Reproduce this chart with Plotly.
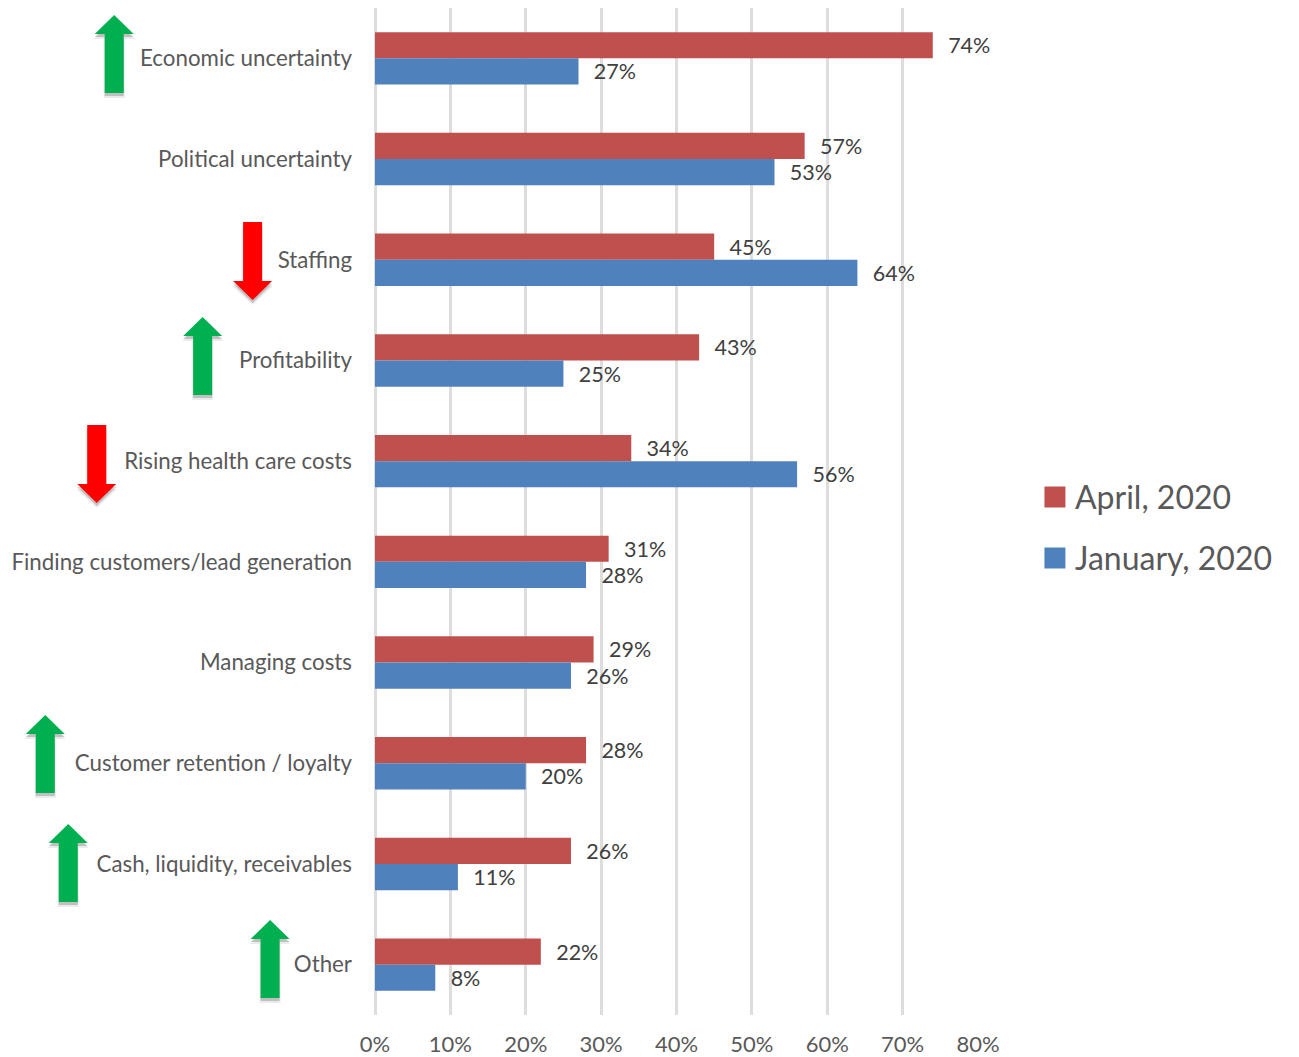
import plotly.graph_objects as go

categories = ["Economic uncertainty", "Political uncertainty", "Staffing", "Profitability",
              "Rising health care costs", "Finding customers/lead generation", "Managing costs",
              "Customer retention / loyalty", "Cash, liquidity, receivables", "Other"]
april = [74, 57, 45, 43, 34, 31, 29, 28, 26, 22]
january = [27, 53, 64, 25, 56, 28, 26, 20, 11, 8]
series_names = ["April, 2020", "January, 2020"]
series_colors = ["#C0504D", "#4F81BD"]
# arrow: direction, centre x px, top y px (in page pixels)
arrows = [("up", 114, 15), ("down", 252.5, 222), ("up", 202.5, 317), ("down", 96.5, 425),
          ("up", 45, 715), ("up", 68, 824), ("up", 270, 920)]

OFF = 8  # default page margin around the plot
W, H = 1299 - OFF, 1057 - OFF
L, R, T, B = 375, 978.5, 8, 1015
FONT = "Lato"

def px(x): return (x - L) / (R - L)
def py(y): return (B - y) / (B - T)

def arrow_path(d, cx, top, dx=0, dy=0, grow=0):
    h, hh, hw, sw = 78, 19, 19.5 + grow, 9.5 + grow
    if d == "up":
        pts = [(cx, top), (cx + hw, top + hh), (cx + sw, top + hh), (cx + sw, top + h),
               (cx - sw, top + h), (cx - sw, top + hh), (cx - hw, top + hh)]
    else:
        b = top + h
        pts = [(cx, b), (cx + hw, b - hh), (cx + sw, b - hh), (cx + sw, top),
               (cx - sw, top), (cx - sw, b - hh), (cx - hw, b - hh)]
    return "M" + " L".join(f"{px(x + dx):.5f},{py(y + dy):.5f}" for x, y in pts) + " Z"

fig = go.Figure()
for name, vals, col in zip(series_names, [april, january], series_colors):
    fig.add_trace(go.Bar(
        y=categories, x=vals, name=name, orientation="h",
        marker=dict(color=col, line=dict(width=0)),
        text=[f"\u00a0\u00a0\u200a{v}%" for v in vals], textposition="outside",
        textfont=dict(family=FONT, size=21.5, color="#404040"),
        cliponaxis=False, constraintext="none", showlegend=False,
    ))

shapes, annotations = [], []
for d, cx, top in arrows:
    col = "#00B050" if d == "up" else "#FF0000"
    shapes.append(dict(type="path", xref="paper", yref="paper", path=arrow_path(d, cx, top, 0, 5, 1),
                       fillcolor="rgba(0,0,0,0.08)", line=dict(width=0)))
    shapes.append(dict(type="path", xref="paper", yref="paper", path=arrow_path(d, cx, top, 0, 3),
                       fillcolor="rgba(0,0,0,0.18)", line=dict(width=0)))
    shapes.append(dict(type="path", xref="paper", yref="paper", path=arrow_path(d, cx, top),
                       fillcolor=col, line=dict(width=0)))

for name, col, y, text_y in zip(series_names, series_colors, [497, 558], [496, 557]):
    shapes.append(dict(type="rect", xref="paper", yref="paper", x0=px(1045), x1=px(1066),
                       y0=py(y + 10.5), y1=py(y - 10.5), fillcolor=col, line=dict(width=0)))
    annotations.append(dict(xref="paper", yref="paper", x=px(1074), y=py(text_y), text=name, showarrow=False,
                            xanchor="left", yanchor="middle",
                            font=dict(family=FONT, size=32, color="#595959")))

fig.update_layout(
    width=W, height=H, autosize=False,
    margin=dict(l=L - OFF, r=W + OFF - R, t=T - OFF, b=H + OFF - B, pad=0),
    paper_bgcolor="white", plot_bgcolor="white",
    barmode="group", bargap=0.48, bargroupgap=0,
    showlegend=False, shapes=shapes, annotations=annotations,
    xaxis=dict(range=[0, 80], dtick=10, ticksuffix="%", showgrid=True, gridcolor="#DDDDDD", gridwidth=2.5,
               zeroline=True, zerolinecolor="#DDDDDD", zerolinewidth=2.5, showline=False, ticks="",
               tickfont=dict(family=FONT, size=22, color="#595959"), ticklabelstandoff=14),
    yaxis=dict(autorange="reversed", categoryorder="array", categoryarray=categories, showgrid=False,
               zeroline=False, showline=False, ticks="", ticklabelstandoff=22,
               tickfont=dict(family=FONT, size=22.3, color="#595959")),
)
fig.write_html("out.html")
